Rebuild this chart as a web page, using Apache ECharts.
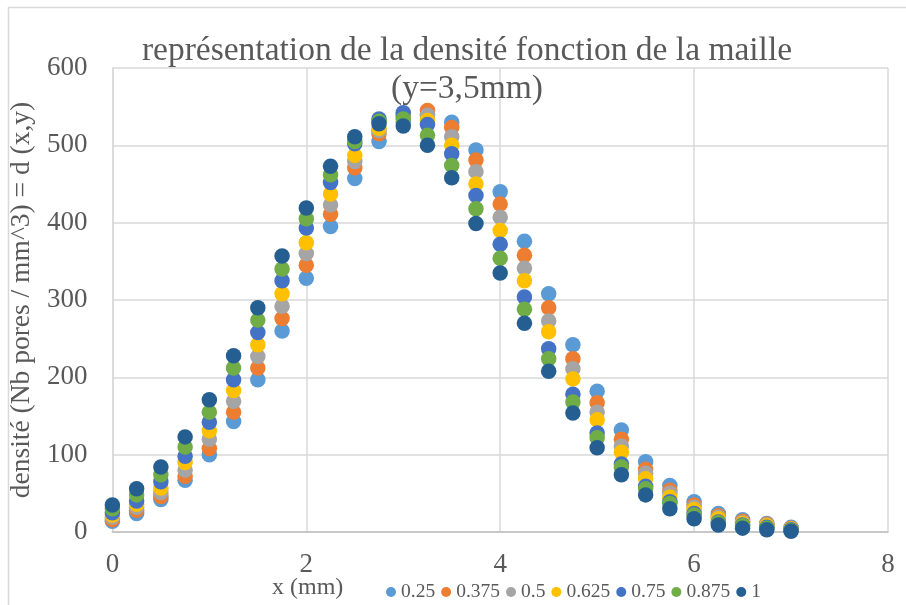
<!DOCTYPE html>
<html>
<head>
<meta charset="utf-8">
<script src="https://cdn.jsdelivr.net/npm/echarts@6/dist/echarts.min.js"></script>
<style>html,body{margin:0;padding:0;background:#fff;}#c{width:906px;height:605px;}</style>
</head>
<body>
<div id="c"></div>
<script>
const xValues = [0,0.25,0.5,0.75,1,1.25,1.5,1.75,2,2.25,2.5,2.75,3,3.25,3.5,3.75,4,4.25,4.5,4.75,5,5.25,5.5,5.75,6,6.25,6.5,6.75,7];
const seriesNames = ['0.25','0.375','0.5','0.625','0.75','0.875','1'];
const s025  = [14,24,42,67,100,143,197,260,328,395,457,505,530,540,530,494,440,376,308,242,182,132,91,60,39,24,16,11,6];
const s0375 = [16,28,46,72,108,155,212,276,345,411,471,515,537,545,523,481,424,358,290,224,167,120,81,54,35,21,14,10,5];
const s05   = [19,32,51,80,120,169,227,292,360,423,479,519,539,539,511,466,407,341,273,211,155,111,76,50,32,19,12,9,4];
const s0625 = [22,36,57,90,131,183,242,308,374,437,487,522,540,532,500,450,390,325,259,198,145,103,69,45,29,17,11,8,4];
const s075  = [25,40,65,98,142,197,258,325,393,452,502,534,542,527,489,435,372,304,237,178,128,88,59,39,24,13,9,6,3];
const s0875 = [30,48,74,110,155,212,274,340,405,462,505,531,534,513,474,418,354,288,224,168,122,84,56,37,22,12,8,5,2];
const s1    = [35,56,84,123,171,228,290,357,419,473,511,528,525,500,458,399,335,270,208,154,109,74,48,30,17,9,5,3,1];
const xTicks = [0,2,4,6,8];
const yTicks = [0,100,200,300,400,500,600];
const titleText = 'représentation de la densité fonction de la maille\n(y=3,5mm)';
const xName = 'x (mm)';
const yName = 'densité (Nb pores / mm^3) = d (x,y)';

const allValues = [s025,s0375,s05,s0625,s075,s0875,s1];
const colors = ['#5B9BD5','#ED7D31','#A5A5A5','#FFC000','#4472C4','#70AD47','#255E91'];
const FONT = '"Liberation Serif", "Times New Roman", serif';
const TXT = '#595959';

const chart = echarts.init(document.getElementById('c'), null, {renderer:'canvas'});
chart.setOption({
  animation: false,
  color: colors,
  title: {
    text: titleText,
    left: 462,
    top: 27,
    textAlign: 'center',
    textStyle: {fontFamily: FONT, fontSize: 33.5, fontWeight: 'normal', color: TXT, lineHeight: 38}
  },
  graphic: [
    {type:'rect', z:-10, silent:true, shape:{x:8.5,y:7.5,width:1000,height:1000}, style:{fill:'#fff', stroke:'#d9d9d9', lineWidth:1.5}},
    {type:'text', left: 272, top: 576, style:{text: xName, font: '24px ' + FONT, fill: TXT}}
  ],
  legend: {
    left: 381, top: 577,
    icon: 'circle', itemWidth: 10, itemHeight: 10, itemGap: 6,
    textStyle: {fontFamily: FONT, fontSize: 19.5, color: TXT},
    data: seriesNames
  },
  grid: {left: 112, top: 68, right: 18, bottom: 73, containLabel: false},
  xAxis: {
    type: 'value', min: xTicks[0], max: xTicks[xTicks.length-1], interval: 2,
    axisLine: {show: true, lineStyle: {color: '#bfbfbf', width: 1.5}},
    axisTick: {show: false},
    splitLine: {show: true, lineStyle: {color: '#d9d9d9', width: 1.5}},
    axisLabel: {fontFamily: FONT, fontSize: 27, color: TXT, margin: 19}
  },
  yAxis: {
    type: 'value', min: yTicks[0], max: yTicks[yTicks.length-1], interval: 100,
    name: yName, nameLocation: 'middle', nameGap: 71, nameRotate: 90,
    nameTextStyle: {fontFamily: FONT, fontSize: 27.5, color: TXT},
    axisLine: {show: true, lineStyle: {color: '#d9d9d9', width: 1.5}},
    axisTick: {show: false},
    splitLine: {show: true, lineStyle: {color: '#d9d9d9', width: 1.5}},
    axisLabel: {fontFamily: FONT, fontSize: 27, color: TXT, margin: 25}
  },
  series: seriesNames.map((n, i) => ({
    name: n,
    type: 'scatter',
    symbol: 'circle',
    symbolSize: 15.5,
    itemStyle: {opacity: 1},
    data: xValues.map((x, j) => [x, allValues[i][j]])
  }))
});
</script>
</body>
</html>
